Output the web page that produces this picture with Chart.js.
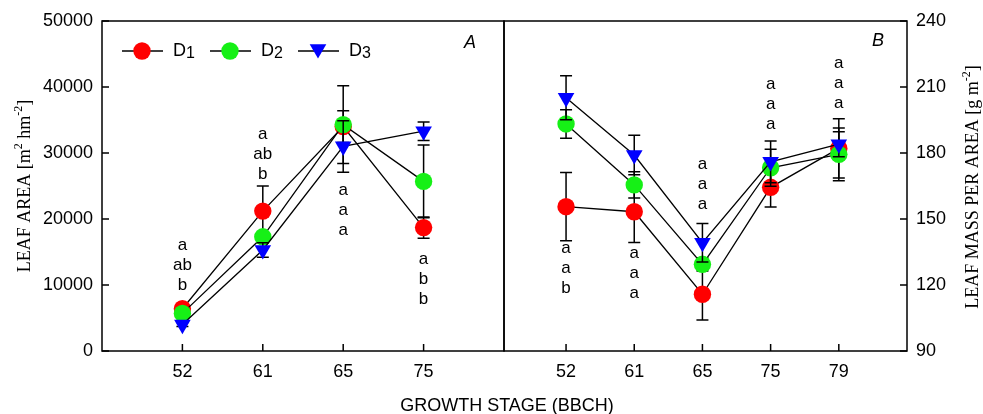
<!DOCTYPE html>
<html>
<head>
<meta charset="utf-8">
<script src="https://cdn.jsdelivr.net/npm/chart.js@4.4.1/dist/chart.umd.min.js"></script>
<style>
    body { margin: 0; background: #fff; }
    #wrap { position: relative; width: 983px; height: 414px; overflow: hidden; background: #fff; }
    canvas { position: absolute; top: 0; }
    #chartA { left: 0; }
    #chartB { left: 500px; }
    #xTitle {
        position: absolute; left: 307px; width: 400px; top: 395px;
        text-align: center; line-height: 20px;
        font: 18px 'Liberation Sans', Arial, sans-serif; color: #000;
    }
</style>
</head>
<body>
<div id="wrap">
    <canvas id="chartA" width="510" height="414"></canvas>
    <canvas id="chartB" width="483" height="414"></canvas>
    <div id="xTitle">GROWTH STAGE (BBCH)</div>
</div>
<script>
// Growth stages (BBCH) for each panel
const stagesA = ['52', '61', '65', '75'];
const stagesB = ['52', '61', '65', '75', '79'];

// Panel A - leaf area [m2 hm-2]
const leafAreaD1 = [6400, 21200, 34000, 18700];
const leafAreaD2 = [5700, 17300, 34300, 25700];
const leafAreaD3 = [4000, 15300, 31000, 33300];
const leafAreaErrD1 = [500, 3800, 2400, 1600];
const leafAreaErrD2 = [400, 500, 5900, 5500];
const leafAreaErrD3 = [300, 1100, 3900, 1400];

// Panel B - leaf mass per area [g m-2]
const lmaD1 = [155.6, 153.3, 115.8, 164.4, 182.1];
const lmaD2 = [193.2, 165.5, 129.4, 173.3, 179.4];
const lmaD3 = [205.1, 179.1, 139.2, 176.0, 184.0];
const lmaErrD1 = [15.5, 14, 11.7, 9, 13.5];
const lmaErrD2 = [6.5, 6, 3, 8.4, 12];
const lmaErrD3 = [10, 9, 8.8, 9.5, 5.7];

// Y axis ticks
const ticksA = [0, 10000, 20000, 30000, 40000, 50000];
const ticksB = [90, 120, 150, 180, 210, 240];

// Significance letters and the value where the first line sits
const lettersA = [['a', 'ab', 'b'], ['a', 'ab', 'b'], ['a', 'a', 'a'], ['a', 'b', 'b']];
const lettersAY = [15950, 32900, 24400, 13940];
const lettersB = [['a', 'a', 'b'], ['a', 'a', 'a'], ['a', 'a', 'a'], ['a', 'a', 'a'], ['a', 'a', 'a']];
const lettersBY = [136.7, 134.4, 175, 211.4, 220.8];

const SANS = "'Liberation Sans', Arial, sans-serif";
const SERIF = "'Liberation Serif', 'Times New Roman', serif";
const RED = '#ff0000';
const GREEN = '#16f016';
const BLUE = '#0000ff';

// Draw a run of text pieces [text, size, shiftY, family] centred on x
function drawRichText(ctx, parts, x, y, align = 'center') {
    let total = 0;
    parts.forEach(p => {
        ctx.font = p[1] + 'px ' + p[3];
        total += ctx.measureText(p[0]).width;
    });
    let cx = align == 'center' ? x - total / 2 : x;
    ctx.textAlign = 'left';
    ctx.textBaseline = 'middle';
    parts.forEach(p => {
        ctx.font = p[1] + 'px ' + p[3];
        ctx.fillText(p[0], cx, y + p[2]);
        cx += ctx.measureText(p[0]).width;
    });
}

function drawMarker(ctx, style, x, y, color) {
    ctx.fillStyle = color;
    ctx.beginPath();
    if (style == 'triangle') {
        const r = 9.6;
        ctx.moveTo(x, y + r);
        ctx.lineTo(x - r * Math.sin(Math.PI / 3), y - r / 2);
        ctx.lineTo(x + r * Math.sin(Math.PI / 3), y - r / 2);
        ctx.closePath();
    } else {
        ctx.arc(x, y, 8.7, 0, Math.PI * 2);
    }
    ctx.fill();
}

function makeSeries(label, values, errors, color, style, order) {
    return {
        label: label,
        data: values.map((v, i) => ({ x: i, y: v })),
        errors: errors,
        borderColor: '#000',
        borderWidth: 1.3,
        pointStyle: style,
        pointRadius: style == 'triangle' ? 9.6 : 8.7,
        pointRotation: style == 'triangle' ? 180 : 0,
        pointBackgroundColor: color,
        pointBorderColor: color,
        pointBorderWidth: 0,
        fill: false,
        tension: 0,
        order: order
    };
}

// Error bars are drawn just before each series, so its own markers cover them
const errorBarPlugin = {
    id: 'errorBars',
    beforeDatasetDraw(chart, args) {
        const ds = chart.data.datasets[args.index];
        if (!ds.errors) return;
        const yScale = chart.scales[args.meta.yAxisID];
        const ctx = chart.ctx;
        ctx.save();
        ctx.strokeStyle = '#000';
        ctx.lineWidth = 1.5;
        args.meta.data.forEach((pt, i) => {
            const v = ds.data[i].y;
            const e = ds.errors[i];
            const top = yScale.getPixelForValue(v + e);
            const bot = yScale.getPixelForValue(v - e);
            ctx.beginPath();
            ctx.moveTo(pt.x, top); ctx.lineTo(pt.x, bot);
            ctx.moveTo(pt.x - 6, top); ctx.lineTo(pt.x + 6, top);
            ctx.moveTo(pt.x - 6, bot); ctx.lineTo(pt.x + 6, bot);
            ctx.stroke();
        });
        ctx.restore();
    }
};

// Box around the plot, inward ticks, letters and panel labels
function panelPlugin(cfg) {
    return {
        id: 'panel',
        afterDraw(chart) {
            const { ctx, chartArea: a, scales } = chart;
            const ys = scales[cfg.yId];
            ctx.save();
            ctx.strokeStyle = '#000';
            ctx.lineWidth = 1.5;
            ctx.strokeRect(a.left, a.top, a.right - a.left, a.bottom - a.top);
            ctx.beginPath();
            scales.x.ticks.forEach(t => {
                const px = scales.x.getPixelForValue(t.value);
                ctx.moveTo(px, a.bottom); ctx.lineTo(px, a.bottom - 7);
            });
            ys.ticks.forEach(t => {
                const py = ys.getPixelForValue(t.value);
                const x0 = cfg.tickDir > 0 ? a.left : a.right;
                ctx.moveTo(x0, py); ctx.lineTo(x0 + cfg.tickDir * 7, py);
            });
            ctx.stroke();

            // significance letters
            ctx.fillStyle = '#000';
            ctx.font = '17px ' + SANS;
            ctx.textAlign = 'center';
            ctx.textBaseline = 'middle';
            cfg.letters.forEach((group, i) => {
                const px = scales.x.getPixelForValue(i);
                const py = ys.getPixelForValue(cfg.lettersY[i]);
                group.forEach((l, k) => ctx.fillText(l, px, py + k * 20));
            });

            // panel label
            ctx.font = 'italic 18px ' + SANS;
            ctx.fillText(cfg.tag, cfg.tagX, cfg.tagY);

            // rotated axis title
            ctx.save();
            ctx.translate(cfg.titleX, cfg.titleY);
            ctx.rotate(-Math.PI / 2);
            drawRichText(ctx, cfg.title, 0, 0);
            ctx.restore();

            if (cfg.legend) drawLegend(ctx);
            ctx.restore();
        }
    };
}

function drawLegend(ctx) {
    const items = [['1', RED, 'circle', 122], ['2', GREEN, 'circle', 210], ['3', BLUE, 'triangle', 298]];
    const y = 51;
    items.forEach(it => {
        ctx.strokeStyle = '#000';
        ctx.lineWidth = 1.3;
        ctx.beginPath();
        ctx.moveTo(it[3], y); ctx.lineTo(it[3] + 41, y);
        ctx.stroke();
        drawMarker(ctx, it[2], it[3] + 20, it[2] == 'triangle' ? y - 2 : y, it[1]);
        ctx.fillStyle = '#000';
        drawRichText(ctx, [['D', 18, 0, SANS], [it[0], 16, 3, SANS]], it[3] + 51, y, 'left');
    });
}

function xAxis(stages, min, max) {
    return {
        type: 'linear',
        min: min,
        max: max,
        grid: { display: false, drawTicks: false },
        border: { display: false },
        afterBuildTicks: (scale) => { scale.ticks = stages.map((s, i) => ({ value: i })); },
        afterFit: (scale) => { scale.height = 63; },
        ticks: {
            color: '#000',
            font: { size: 18, family: SANS },
            padding: 10,
            maxRotation: 0,
            callback: (v) => stages[v]
        }
    };
}

function yAxis(ticks, position, width) {
    return {
        type: 'linear',
        position: position,
        min: ticks[0],
        max: ticks[ticks.length - 1],
        grid: { display: false, drawTicks: false },
        border: { display: false },
        afterBuildTicks: (scale) => { scale.ticks = ticks.map(v => ({ value: v })); },
        afterFit: (scale) => { scale.width = width; },
        ticks: {
            color: '#000',
            font: { size: 18, family: SANS },
            padding: 9,
            callback: (v) => String(v)
        }
    };
}

const baseOptions = {
    responsive: false,
    animation: false,
    plugins: { legend: { display: false }, tooltip: { enabled: false } }
};

// Panel A - leaf area
new Chart(document.getElementById('chartA'), {
    type: 'line',
    data: {
        datasets: [
            makeSeries('D1', leafAreaD1, leafAreaErrD1, RED, 'circle', 3),
            makeSeries('D2', leafAreaD2, leafAreaErrD2, GREEN, 'circle', 2),
            makeSeries('D3', leafAreaD3, leafAreaErrD3, BLUE, 'triangle', 1)
        ]
    },
    options: Object.assign({}, baseOptions, {
        layout: { autoPadding: false, padding: { top: 21, right: 6, left: 0, bottom: 0 } },
        scales: { x: xAxis(stagesA, -1, 4), y: yAxis(ticksA, 'left', 102) }
    }),
    plugins: [errorBarPlugin, panelPlugin({
        yId: 'y', tickDir: 1, letters: lettersA, lettersY: lettersAY,
        tag: 'A', tagX: 470, tagY: 43, legend: true,
        titleX: 25, titleY: 186,
        title: [['LEAF AREA [m', 18, 0, SERIF], ['2', 12, -6, SERIF], [' hm', 18, 0, SERIF], ['-2', 12, -6, SERIF], [']', 18, 0, SERIF]]
    })]
});

// Panel B - leaf mass per area
new Chart(document.getElementById('chartB'), {
    type: 'line',
    data: {
        datasets: [
            makeSeries('D1', lmaD1, lmaErrD1, RED, 'circle', 3),
            makeSeries('D2', lmaD2, lmaErrD2, GREEN, 'circle', 2),
            makeSeries('D3', lmaD3, lmaErrD3, BLUE, 'triangle', 1)
        ]
    },
    options: Object.assign({}, baseOptions, {
        layout: { autoPadding: false, padding: { top: 21, right: 0, left: 4, bottom: 0 } },
        scales: { x: xAxis(stagesB, -0.91, 5), y: yAxis(ticksB, 'right', 76) }
    }),
    plugins: [errorBarPlugin, panelPlugin({
        yId: 'y', tickDir: -1, letters: lettersB, lettersY: lettersBY,
        tag: 'B', tagX: 378, tagY: 41, legend: false,
        titleX: 473, titleY: 187,
        title: [['LEAF MASS PER AREA [g m', 18, 0, SERIF], ['-2', 12, -6, SERIF], [']', 18, 0, SERIF]]
    })]
});
</script>
</body>
</html>
